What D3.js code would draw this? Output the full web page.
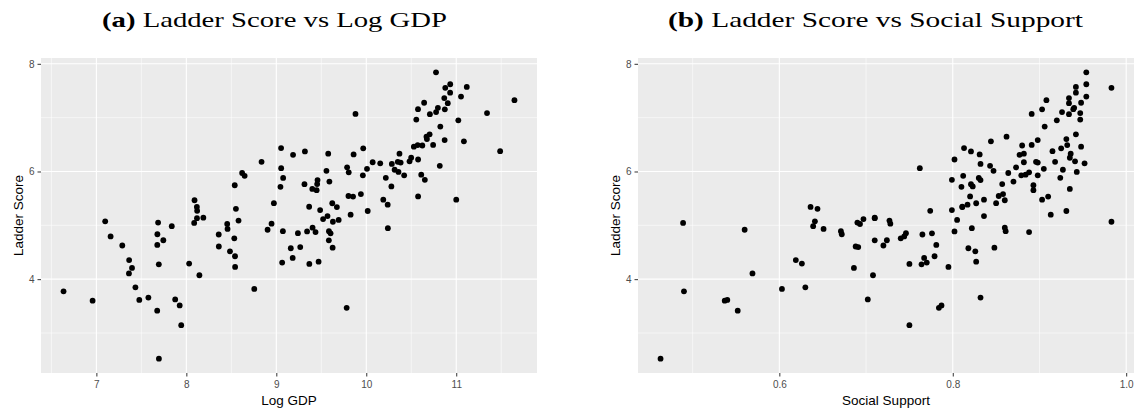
<!DOCTYPE html>
<html>
<head>
<meta charset="utf-8">
<script src="https://cdn.jsdelivr.net/npm/d3@7"></script>
<style>
  body { margin: 0; background: #fff; }
  svg { display: block; }
</style>
</head>
<body>
<div id="chart"></div>
<script>
const W = 1137, H = 413;

// World Happiness values (one entry per country)
const ladderScore = [7.842, 7.620, 7.571, 7.554, 7.464, 7.392, 7.363, 7.324, 7.277, 7.268,
  7.183, 7.157, 7.155, 7.103, 7.085, 7.069, 7.064, 6.965, 6.951, 6.834,
  6.690, 6.647, 6.602, 6.584, 6.561, 6.494, 6.491, 6.483, 6.461, 6.435,
  6.431, 6.377, 6.372, 6.331, 6.330, 6.317, 6.309, 6.255, 6.223, 6.189,
  6.180, 6.179, 6.172, 6.166, 6.152, 6.140, 6.106, 6.078, 6.061, 6.049,
  6.032, 6.012, 5.992, 5.985, 5.972, 5.940, 5.929, 5.929, 5.919, 5.882,
  5.880, 5.845, 5.840, 5.813, 5.766, 5.764, 5.744, 5.723, 5.716, 5.677,
  5.653, 5.581, 5.545, 5.536, 5.534, 5.477, 5.477, 5.466, 5.411, 5.410,
  5.384, 5.345, 5.342, 5.339, 5.306, 5.283, 5.269, 5.266, 5.198, 5.171,
  5.142, 5.132, 5.117, 5.101, 5.088, 5.074, 5.066, 5.051, 5.045, 5.030,
  5.025, 4.984, 4.956, 4.948, 4.934, 4.918, 4.892, 4.891, 4.887, 4.875,
  4.854, 4.852, 4.834, 4.830, 4.794, 4.759, 4.723, 4.721, 4.636, 4.625,
  4.607, 4.596, 4.584, 4.574, 4.517, 4.426, 4.395, 4.355, 4.325, 4.308,
  4.289, 4.283, 4.275, 4.227, 4.208, 4.107, 4.073, 3.849, 3.819, 3.775,
  3.658, 3.623, 3.615, 3.600, 3.512, 3.467, 3.415, 3.145, 2.523];

const logGdp = [10.775, 10.933, 11.117, 10.878, 10.932, 11.053, 10.867, 11.647, 10.643, 10.906,
  10.796, 10.575, 10.873, 10.776, 11.342, 9.880, 10.707, 10.556, 11.023, 10.823,
  10.704, 10.669, 10.674, 10.871, 11.085, 10.743, 10.571, 10.623, 10.529, 9.053,
  9.966, 11.488, 9.318, 10.369, 9.577, 9.859, 9.186, 10.499, 10.576, 10.481,
  10.350, 8.836, 10.071, 10.382, 10.155, 10.284, 10.817, 9.787, 9.054, 10.008,
  10.315, 9.557, 10.358, 9.805, 8.620, 10.611, 9.962, 10.421, 8.648, 10.217,
  9.076, 10.651, 9.458, 9.590, 9.454, 9.313, 8.538, 10.279, 9.046, 9.400,
  9.448, 9.940, 9.802, 10.576, 9.853, 10.189, 11.000, 8.091, 8.973, 9.622,
  10.238, 9.365, 8.117, 9.673, 8.551, 9.487, 8.120, 10.016, 9.826, 9.569,
  8.189, 8.118, 9.520, 9.693, 8.580, 7.098, 9.629, 7.686, 8.087, 8.947,
  8.454, 7.838, 9.403, 10.240, 8.458, 8.903, 9.073, 9.585, 9.342, 9.436,
  9.240, 9.603, 7.678, 8.360, 7.158, 8.533, 7.744, 9.584, 7.677, 7.288,
  8.361, 9.266, 9.626, 9.161, 8.485, 8.541, 9.182, 7.364, 9.470, 9.065,
  8.031, 9.367, 7.694, 8.542, 7.396, 7.362, 8.145, 7.434, 8.755, 6.635,
  7.578, 7.876, 7.477, 6.958, 7.926, 9.782, 7.676, 7.943, 7.695];

const socialSupport = [0.954, 0.954, 0.942, 0.983, 0.942, 0.954, 0.934, 0.908, 0.948, 0.934,
  0.940, 0.939, 0.903, 0.926, 0.947, 0.891, 0.934, 0.947, 0.920, 0.906,
  0.942, 0.862, 0.931, 0.898, 0.844, 0.891, 0.932, 0.880, 0.948, 0.813,
  0.925, 0.915, 0.821, 0.936, 0.882, 0.831, 0.877, 0.935, 0.802, 0.941,
  0.896, 0.918, 0.882, 0.898, 0.952, 0.832, 0.843, 0.873, 0.762, 0.905,
  0.927, 0.847, 0.943, 0.888, 0.864, 0.884, 0.898, 0.879, 0.812, 0.924,
  0.830, 0.799, 0.832, 0.870, 0.857, 0.821, 0.893, 0.823, 0.810, 0.935,
  0.893, 0.858, 0.853, 0.820, 0.910, 0.903, 0.836, 0.860, 0.850, 0.827,
  0.817, 0.811, 0.636, 0.811, 0.644, 0.799, 0.774, 0.931, 0.913, 0.836,
  0.710, 0.710, 0.697, 0.805, 0.727, 0.641, 0.983, 0.690, 0.489, 0.728,
  0.693, 0.639, 0.860, 0.822, 0.651, 0.560, 0.861, 0.671, 0.802, 0.888,
  0.746, 0.776, 0.672, 0.765, 0.744, 0.740, 0.724, 0.710, 0.781, 0.720,
  0.688, 0.691, 0.848, 0.818, 0.826, 0.779, 0.767, 0.619, 0.827, 0.770,
  0.626, 0.750, 0.764, 0.795, 0.686, 0.569, 0.708, 0.630, 0.603, 0.490,
  0.832, 0.702, 0.540, 0.537, 0.787, 0.784, 0.552, 0.750, 0.463];

const yTicks = [4, 6, 8];
const gdpTicks = [7, 8, 9, 10, 11];
const ssTicks = [0.6, 0.8, 1.0];

const svg = d3.select("#chart").append("svg")
    .attr("width", W)
    .attr("height", H);

// ggplot style: 5% expansion of data range
function expand(vals) {
  const [a, b] = d3.extent(vals);
  const pad = (b - a) * 0.05;
  return [a - pad, b + pad];
}

function panel(opts) {
  const { left, right, top, bottom, xVals, xTicks, xFmt, xTitle, title, letter, titleX, titleLen, yTitleX } = opts;

  const x = d3.scaleLinear().domain(expand(xVals)).range([left, right]);
  const y = d3.scaleLinear().domain(expand(ladderScore)).range([bottom, top]);

  const g = svg.append("g");

  g.append("rect")
      .attr("x", left).attr("y", top)
      .attr("width", right - left).attr("height", bottom - top)
      .attr("fill", "#EBEBEB");

  // minor grid lines sit halfway between the majors
  const mid = t => d3.range(t.length + 1).map(i => {
    const step = t[1] - t[0];
    return i === 0 ? t[0] - step / 2 : t[i - 1] + step / 2;
  });
  const xMinor = mid(xTicks).filter(v => v >= x.domain()[0] && v <= x.domain()[1]);
  const yMinor = mid(yTicks).filter(v => v >= y.domain()[0] && v <= y.domain()[1]);

  g.selectAll(".xminor").data(xMinor).enter().append("line")
      .attr("x1", d => x(d)).attr("x2", d => x(d))
      .attr("y1", top).attr("y2", bottom)
      .attr("stroke", "#fff").attr("stroke-width", 0.55);
  g.selectAll(".yminor").data(yMinor).enter().append("line")
      .attr("y1", d => y(d)).attr("y2", d => y(d))
      .attr("x1", left).attr("x2", right)
      .attr("stroke", "#fff").attr("stroke-width", 0.55);
  g.selectAll(".xmajor").data(xTicks).enter().append("line")
      .attr("x1", d => x(d)).attr("x2", d => x(d))
      .attr("y1", top).attr("y2", bottom)
      .attr("stroke", "#fff").attr("stroke-width", 1.1);
  g.selectAll(".ymajor").data(yTicks).enter().append("line")
      .attr("y1", d => y(d)).attr("y2", d => y(d))
      .attr("x1", left).attr("x2", right)
      .attr("stroke", "#fff").attr("stroke-width", 1.1);

  // axes
  const ax = g.append("g")
      .attr("transform", "translate(0," + bottom + ")")
      .call(d3.axisBottom(x).tickValues(xTicks).tickFormat(xFmt).tickSize(3.5).tickPadding(4));
  const ay = g.append("g")
      .attr("transform", "translate(" + left + ",0)")
      .call(d3.axisLeft(y).tickValues(yTicks).tickFormat(d3.format("d")).tickSize(3.5).tickPadding(3));
  [ax, ay].forEach(a => {
    a.select(".domain").remove();
    a.selectAll("line").attr("stroke", "#333").attr("stroke-width", 1);
    a.selectAll("text")
        .attr("fill", "#4D4D4D")
        .style("font-family", "Liberation Sans, Arial, sans-serif")
        .style("font-size", "10px");
  });

  // points
  const pts = ladderScore.map((v, i) => ({ x: xVals[i], y: v }));
  g.selectAll(".pt").data(pts).enter().append("circle")
      .attr("cx", d => x(d.x))
      .attr("cy", d => y(d.y))
      .attr("r", 2.9)
      .attr("fill", "#000");

  // axis titles
  g.append("text")
      .attr("x", (left + right) / 2).attr("y", 405)
      .attr("text-anchor", "middle")
      .style("font-family", "Liberation Sans, Arial, sans-serif")
      .style("font-size", "13.5px")
      .text(xTitle);
  g.append("text")
      .attr("transform", "translate(" + yTitleX + "," + ((top + bottom) / 2) + ") rotate(-90)")
      .attr("text-anchor", "middle")
      .style("font-family", "Liberation Sans, Arial, sans-serif")
      .style("font-size", "13.5px")
      .text("Ladder Score");

  // sub-figure caption
  const t = svg.append("text")
      .attr("x", titleX).attr("y", 27)
      .attr("text-anchor", "middle")
      .attr("textLength", titleLen)
      .attr("lengthAdjust", "spacingAndGlyphs")
      .style("font-family", "Liberation Serif, Times New Roman, serif")
      .style("font-size", "21px");
  t.append("tspan").style("font-weight", "bold").text("(" + letter + ")");
  t.append("tspan").text(" " + title);
}

panel({
  left: 41, right: 537, top: 58, bottom: 373,
  xVals: logGdp, xTicks: gdpTicks, xFmt: d3.format("d"),
  xTitle: "Log GDP", title: "Ladder Score vs Log GDP", letter: "a",
  titleX: 274.5, titleLen: 345, yTitleX: 22.5
});

panel({
  left: 638, right: 1134, top: 58, bottom: 373,
  xVals: socialSupport, xTicks: ssTicks, xFmt: d3.format(".1f"),
  xTitle: "Social Support", title: "Ladder Score vs Social Support", letter: "b",
  titleX: 875.5, titleLen: 415, yTitleX: 619.5
});
</script>
</body>
</html>
